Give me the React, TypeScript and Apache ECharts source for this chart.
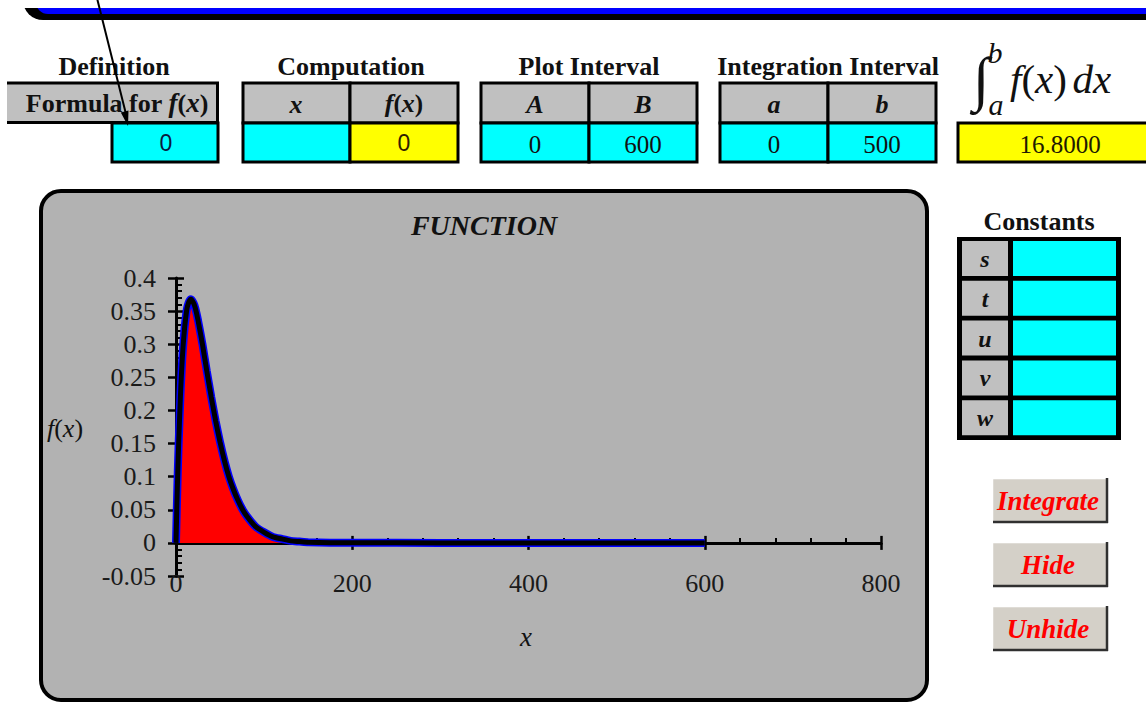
import React, { useEffect, useRef } from 'react';
import * as echarts from 'echarts';

// ---- data ----
const xValues = [0, 1, 2, 3, 5, 6, 7, 8, 9, 10, 12, 13, 15, 17, 20, 22, 25, 30, 35, 40, 45, 50, 55, 60, 65, 70, 75, 80, 90, 100, 110, 120, 130, 140, 150, 175, 200, 300, 400, 500, 600];
const fValues = [0, 0.056, 0.106, 0.149, 0.221, 0.25, 0.275, 0.296, 0.313, 0.328, 0.35, 0.357, 0.365, 0.368, 0.362, 0.354, 0.336, 0.3, 0.259, 0.22, 0.184, 0.152, 0.124, 0.1, 0.081, 0.065, 0.0515, 0.041, 0.025, 0.016, 0.009, 0.006, 0.003, 0.002, 0.001, 0.0003, 0.0001, 0, 0, 0, 0];
const plotInterval = [0, 600];
const integrationInterval = [0, 500];
const integralValue = '16.8000';
const formulaValue = '0';
const computedValue = '0';
const xAxisRange = [0, 800];
const xAxisStep = 200;
const yAxisRange = [-0.05, 0.4];
const yAxisStep = 0.05;
const constantNames = ['s', 't', 'u', 'v', 'w'];
const buttonLabels = ['Integrate', 'Hide', 'Unhide'];

const SERIF = "'Liberation Serif', 'Times New Roman', serif";
const SANS = "'Liberation Sans', Arial, sans-serif";

const rect = (x: number, y: number, w: number, h: number, fill: string, stroke?: string, lw?: number, z = 10, r?: any) => ({
  type: 'rect', z,
  shape: { x, y, width: w, height: h, r: r || 0 },
  style: { fill, stroke: stroke || null, lineWidth: lw || 0 },
});
const line = (x1: number, y1: number, x2: number, y2: number, color = '#000', lw = 3, z = 11) => ({
  type: 'line', z,
  shape: { x1, y1, x2, y2 },
  style: { stroke: color, lineWidth: lw },
});
const text = (x: number, y: number, t: string, font: string, fill = '#111', z = 12, align = 'center') => ({
  type: 'text', z, x, y,
  style: { text: t, font, fill, align, verticalAlign: 'middle', textAlign: align, textVerticalAlign: 'middle' },
});
const rs = (size: number, italic: boolean, bold: boolean, fill = '#111', family = SERIF) => ({
  fontSize: size, fontFamily: family, fontStyle: italic ? 'italic' : 'normal', fontWeight: bold ? 'bold' : 'normal', fill, color: fill,
});
const richText = (x: number, y: number, t: string, rich: any, align = 'center', z = 12) => ({
  type: 'text', z, x, y,
  style: { text: t, rich, align, verticalAlign: 'middle', textAlign: align, textVerticalAlign: 'middle' },
});

const BOLD = (s: number) => `bold ${s}px ${SERIF}`;
const BI = (s: number) => `italic bold ${s}px ${SERIF}`;
const IT = (s: number) => `italic ${s}px ${SERIF}`;

function buildGraphics() {
  const g: any[] = [];
  // chart frame
  g.push(rect(41, 191, 886, 509, '#b2b2b2', '#000', 4, -10, 20));
  // top bar
  g.push(rect(23, -40, 1200, 60, '#000', undefined, 0, 5, [0, 0, 0, 20]));
  g.push(rect(36, -40, 1200, 54, '#0000ff', undefined, 0, 6, [0, 0, 0, 12]));
  g.push(rect(0, -50, 1146, 58, '#ffffff', undefined, 0, 7));

  // headings
  g.push(text(114, 66, 'Definition', BOLD(26)));
  g.push(text(351, 66, 'Computation', BOLD(26)));
  g.push(text(589, 66, 'Plot Interval', BOLD(26)));
  g.push(text(828, 66, 'Integration Interval', BOLD(26)));

  // Definition table
  g.push(rect(7, 82, 212, 41, '#c0c0c0'));
  g.push(line(7, 83, 219, 83));
  g.push(line(7, 122.5, 219, 122.5));
  g.push(line(217.5, 82, 217.5, 124));
  g.push(richText(117, 103, '{b|Formula for }{i|f}{b|(}{i|x}{b|)}', {
    b: rs(26, false, true),
    i: rs(27, true, true),
  }));
  g.push(rect(112, 123, 106, 39, '#00ffff', '#000', 3));
  g.push(text(166, 143, formulaValue, `23px ${SANS}`, '#0a1a40'));

  // Computation table
  g.push(rect(243, 83, 107, 40, '#c0c0c0', '#000', 3));
  g.push(rect(350, 83, 108, 40, '#c0c0c0', '#000', 3));
  g.push(rect(243, 123, 107, 39, '#00ffff', '#000', 3));
  g.push(rect(350, 123, 108, 39, '#ffff00', '#000', 3));
  g.push(text(296, 104, 'x', BI(26)));
  g.push(richText(404, 103, '{i|f}{b|(}{i|x}{b|)}', { b: rs(25, false, true), i: rs(26, true, true) }));
  g.push(text(404, 143, computedValue, `23px ${SANS}`, '#302000'));

  const twoCol = (x0: number, mid: number, x1: number, h1: string, h2: string, v1: string, v2: string) => {
    g.push(rect(x0, 83, mid - x0, 40, '#c0c0c0', '#000', 3));
    g.push(rect(mid, 83, x1 - mid, 40, '#c0c0c0', '#000', 3));
    g.push(rect(x0, 123, mid - x0, 39, '#00ffff', '#000', 3));
    g.push(rect(mid, 123, x1 - mid, 39, '#00ffff', '#000', 3));
    g.push(text((x0 + mid) / 2, 104, h1, BI(26)));
    g.push(text((mid + x1) / 2, 104, h2, BI(26)));
    g.push(text((x0 + mid) / 2, 144, v1, `25px ${SERIF}`));
    g.push(text((mid + x1) / 2, 144, v2, `25px ${SERIF}`));
  };
  twoCol(481, 589, 697, 'A', 'B', String(plotInterval[0]), String(plotInterval[1]));
  twoCol(720, 828, 936, 'a', 'b', String(integrationInterval[0]), String(integrationInterval[1]));

  // integral
  g.push(text(981, 79, '\u222B', `60px ${SERIF}`, '#111'));
  g.push(text(995, 52, 'b', IT(30), '#111'));
  g.push(text(996, 104, 'a', IT(30), '#111'));
  g.push(richText(1010, 79, '{i|f}{r|(}{i|x}{r|)}{s| }{i|dx}', {
    i: rs(41, true, false),
    r: rs(41, false, false),
    s: rs(22, false, false),
  }, 'left'));
  g.push(rect(958, 123, 200, 39, '#ffff00', '#000', 3));
  g.push(text(1060, 144, integralValue, `25px ${SERIF}`, '#221a00'));

  // constants
  g.push(text(1039, 221, 'Constants', BOLD(26)));
  g.push(rect(957, 237, 164, 203, '#000'));
  constantNames.forEach((n, i) => {
    const y = 241 + i * 39.8;
    g.push(rect(962, y, 46, 35, '#c0c0c0', undefined, 0, 11));
    g.push(rect(1013, y, 103, 35, '#00ffff', undefined, 0, 11));
    g.push(text(985, y + 18, n, BI(24)));
  });

  // buttons
  buttonLabels.forEach((b, i) => {
    const y = 478 + i * 64;
    g.push(rect(992, y, 116, 45, '#d4d0c8'));
    g.push(line(992, y + 0.5, 1108, y + 0.5, '#ffffff', 1.5));
    g.push(line(992.5, y, 992.5, y + 45, '#ffffff', 1.5));
    g.push(line(993, y + 44, 1108, y + 44, '#303030', 2.5));
    g.push(line(1107, y, 1107, y + 45, '#303030', 2.5));
    g.push(text(1048, y + 23, b, BI(27), '#ff0000'));
  });

  // chart texts
  g.push(text(484, 225, 'FUNCTION', BI(28), '#111', 12));
  g.push(richText(65, 428, '{i|f}{r|(}{i|x}{r|)}', { i: rs(26, true, false), r: rs(26, false, false) }));
  g.push(text(526, 637, 'x', IT(27), '#111', 12));

  // arrow
  g.push(line(97, -2, 126, 114, '#000', 2, 20));
  g.push({
    type: 'polygon', z: 20,
    shape: { points: [[128, 126], [120.8, 112.4], [128.5, 110.4]] },
    style: { fill: '#000' },
  });
  return g;
}

export default function App() {
  const ref = useRef<HTMLDivElement>(null);
  useEffect(() => {
    if (!ref.current) return;
    const chart = echarts.init(ref.current, undefined, { renderer: 'svg' });
    const plotData: number[][] = [];
    const areaData: number[][] = [];
    xValues.forEach((x, i) => {
      if (x >= plotInterval[0] && x <= plotInterval[1]) plotData.push([x, fValues[i]]);
      if (x >= integrationInterval[0] && x <= integrationInterval[1]) areaData.push([x, fValues[i]]);
    });
    const labelStyle = { fontFamily: SERIF, fontSize: 26, color: '#1a1a1a' };
    const tickLine = { color: '#000', width: 2.5 };
    chart.setOption({
      animation: false,
      backgroundColor: '#ffffff',
      grid: { left: 176, top: 278, width: 705, height: 298, containLabel: false },
      xAxis: [
        {
          type: 'value', min: xAxisRange[0], max: xAxisRange[1], interval: xAxisStep,
          axisLine: { show: true, onZero: true, onZeroAxisIndex: 0, lineStyle: { color: '#000', width: 3 } },
          axisTick: { show: true, inside: true, length: 7, lineStyle: tickLine },
          minorTick: { show: true, splitNumber: 5, length: 5, lineStyle: { color: '#000', width: 2 } },
          axisLabel: { ...labelStyle, margin: -6, showMinLabel: true, showMaxLabel: true, hideOverlap: false },
          splitLine: { show: false },
        },
        {
          type: 'value', min: xAxisRange[0], max: xAxisRange[1], interval: xAxisStep, position: 'bottom',
          axisLine: { show: true, onZero: true, onZeroAxisIndex: 1, lineStyle: { color: '#000', width: 3 } },
          axisTick: { show: true, inside: false, length: 7, lineStyle: tickLine },
          axisLabel: { show: false },
          splitLine: { show: false },
        },
      ],
      yAxis: [
        {
          type: 'value', min: yAxisRange[0], max: yAxisRange[1], interval: yAxisStep, position: 'left',
          axisLine: { show: true, lineStyle: { color: '#000', width: 3 } },
          axisTick: { show: true, inside: true, length: 8, lineStyle: tickLine },
          minorTick: { show: true, splitNumber: 5, length: 6, lineStyle: { color: '#000', width: 2 } },
          axisLabel: {
            ...labelStyle, margin: 20, showMinLabel: true, showMaxLabel: true,
            formatter: (v: number) => String(+v.toFixed(2)),
          },
          splitLine: { show: false },
        },
        {
          type: 'value', min: yAxisRange[0], max: yAxisRange[1], interval: yAxisStep, position: 'left',
          axisLine: { show: false },
          axisTick: { show: true, inside: false, length: 8, lineStyle: tickLine },
          axisLabel: { show: false },
          splitLine: { show: false },
        },
      ],
      series: [
        {
          type: 'line', name: 'integral', data: areaData, xAxisIndex: 0, yAxisIndex: 0,
          showSymbol: false, lineStyle: { width: 0 }, areaStyle: { color: '#ff0000', opacity: 1 },
          z: 2, silent: true,
        },
        {
          type: 'line', name: 'f-blue', data: plotData, xAxisIndex: 0, yAxisIndex: 0,
          showSymbol: false, lineStyle: { color: '#0000ff', width: 8 }, z: 3, smooth: 0.2,
        },
        {
          type: 'line', name: 'f', data: plotData, xAxisIndex: 0, yAxisIndex: 0,
          showSymbol: false, lineStyle: { color: '#000000', width: 5 }, z: 4, smooth: 0.2,
        },
      ],
      graphic: { elements: buildGraphics() },
    });
    return () => chart.dispose();
  }, []);
  return <div ref={ref} style={{ position: 'fixed', left: 0, top: 0, width: 1146, height: 704 }} />;
}
